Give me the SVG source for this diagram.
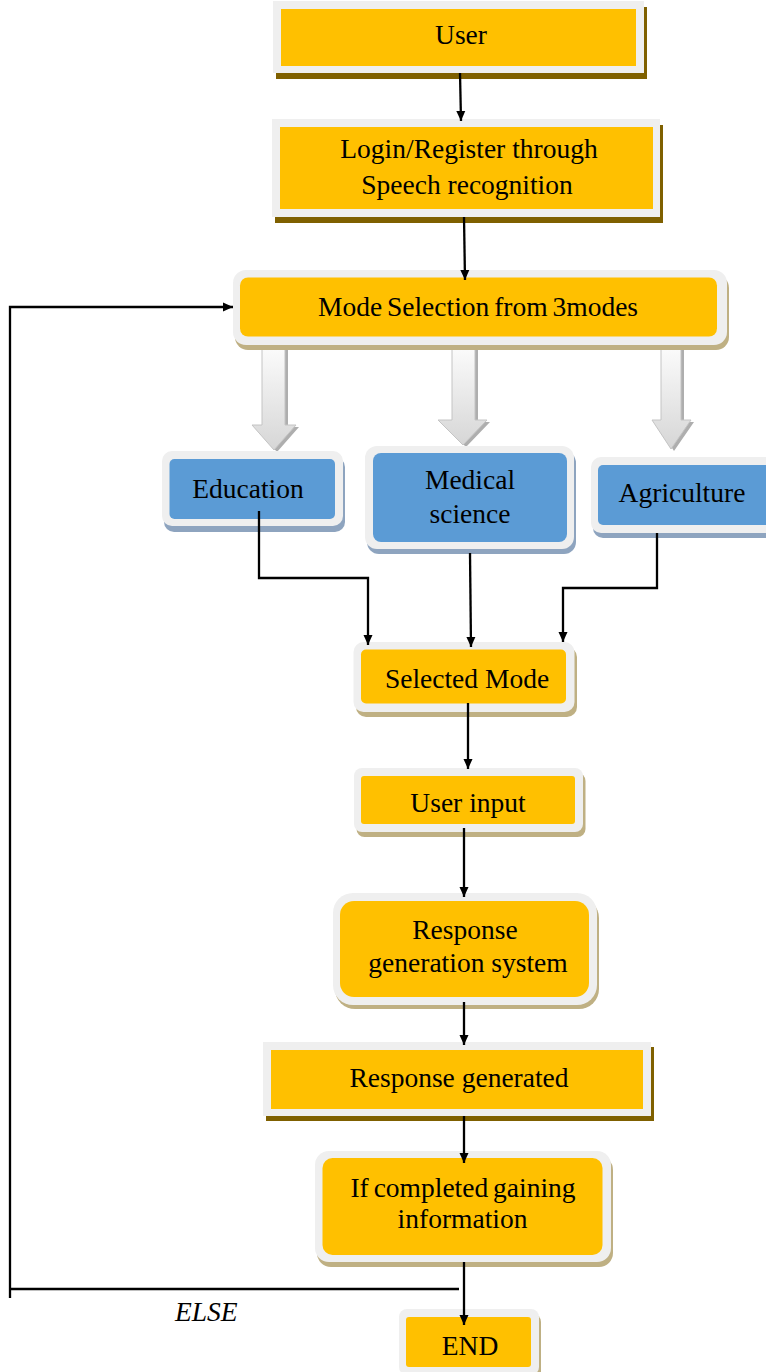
<svg xmlns="http://www.w3.org/2000/svg" width="766" height="1372" viewBox="0 0 766 1372">
<defs>
<style>
.frame{fill:#EFEFEF;}
.gold{fill:#FFC000;}
.blue{fill:#5B9BD5;}
.shD{fill:#7F6000;}
.shT{fill:#BFB083;}
.shB{fill:#8EA4BF;}
.t{font-family:"Liberation Serif","Times New Roman",serif;font-size:27.5px;fill:#000;text-anchor:middle;}
.else{font-family:"Liberation Serif","Times New Roman",serif;font-size:27.5px;font-style:italic;fill:#000;}
.conn{fill:none;stroke:#000;stroke-width:2.3;}
.bk{fill:#AEAEAE;}
.bf{fill:url(#garr);stroke:#C4C4C4;stroke-width:1;}
</style>
<linearGradient id="garr" x1="0" y1="0" x2="0" y2="1">
<stop offset="0" stop-color="#FBFBFB"/>
<stop offset="1" stop-color="#D6D6D6"/>
</linearGradient>
<marker id="ah" viewBox="0 0 10 10" refX="10" refY="5" markerWidth="10" markerHeight="10" markerUnits="userSpaceOnUse" orient="auto">
<path d="M0,0.5 L10,5 L0,9.5 z" fill="#000"/>
</marker>
</defs>

<g id="block-arrows">
<g id="barrow-left">
<polygon class="bk" points="265,350 288,350 288,427 299,427 277,452 255,427 265,427"/>
<polygon class="bf" points="262,348 285,348 285,425 296,425 274,450 252,425 262,425"/>
</g>
<g id="barrow-mid">
<polygon class="bk" points="455,350 478,350 478,422 490,422 466,447 441,422 455,422"/>
<polygon class="bf" points="452,348 475,348 475,420 487,420 463,445 438,420 452,420"/>
</g>
<g id="barrow-right">
<polygon class="bk" points="664,350 684,350 684,422 694,422 674,451 655,422 664,422"/>
<polygon class="bf" points="661,348 681,348 681,420 691,420 671,449 652,420 661,420"/>
</g>
</g>

<g id="node-user">
<rect class="shD" x="276" y="7" width="371" height="72"/>
<rect class="frame" x="273" y="1" width="371" height="72"/>
<rect class="gold" x="281" y="9" width="355" height="57"/>
<text class="t" x="461" y="44">User</text>
</g>

<g id="node-login">
<rect class="shD" x="275" y="125" width="388" height="98"/>
<rect class="frame" x="272" y="119" width="388" height="98"/>
<rect class="gold" x="280" y="127" width="373" height="82"/>
<text class="t" x="469" y="158">Login/Register through</text>
<text class="t" x="467" y="194">Speech recognition</text>
</g>

<g id="node-mode-selection">
<rect class="shT" x="235" y="275" width="494" height="75" rx="13"/>
<rect class="frame" x="233" y="270" width="494" height="75" rx="13"/>
<rect class="gold" x="240" y="277.5" width="477" height="59" rx="8"/>
<text class="t" x="478" y="316" style="word-spacing:-2px">Mode Selection from 3modes</text>
</g>

<g id="node-education">
<rect class="shB" x="164" y="457" width="181" height="75" rx="10"/>
<rect class="frame" x="162" y="451" width="181" height="75" rx="10"/>
<rect class="blue" x="169.5" y="459" width="165.5" height="60" rx="5"/>
<text class="t" x="248" y="498">Education</text>
</g>

<g id="node-medical">
<rect class="shB" x="367" y="451" width="209" height="103" rx="12"/>
<rect class="frame" x="365" y="446" width="209" height="103" rx="12"/>
<rect class="blue" x="373" y="453" width="194" height="89" rx="8"/>
<text class="t" x="470" y="489">Medical</text>
<text class="t" x="470" y="523">science</text>
</g>

<g id="node-agriculture">
<rect class="shB" x="593" y="462" width="190" height="76" rx="10"/>
<rect class="frame" x="591" y="457" width="190" height="76" rx="10"/>
<rect class="blue" x="598" y="465" width="176" height="60" rx="5"/>
<text class="t" x="682" y="502">Agriculture</text>
</g>

<g id="node-selected-mode">
<rect class="shT" x="356" y="647" width="221" height="70" rx="10"/>
<rect class="frame" x="353.5" y="642" width="221" height="70" rx="10"/>
<rect class="gold" x="361" y="649.5" width="205" height="54" rx="5"/>
<text class="t" x="467" y="688">Selected Mode</text>
</g>

<g id="node-user-input">
<rect class="shT" x="356.5" y="773" width="229" height="64" rx="8"/>
<rect class="frame" x="354" y="768" width="229" height="64" rx="8"/>
<rect class="gold" x="361" y="776" width="214" height="48" rx="3"/>
<text class="t" x="468" y="812">User input</text>
</g>

<g id="node-response-system">
<rect class="shT" x="335" y="898" width="264" height="111" rx="20"/>
<rect class="frame" x="333" y="893" width="264" height="112" rx="20"/>
<rect class="gold" x="340" y="901" width="249" height="96" rx="14"/>
<text class="t" x="465" y="939">Response</text>
<text class="t" x="468" y="972">generation system</text>
</g>

<g id="node-response-generated">
<rect class="shD" x="266" y="1047" width="388" height="74"/>
<rect class="frame" x="263" y="1042" width="388" height="74"/>
<rect class="gold" x="271" y="1050" width="372" height="59"/>
<text class="t" x="459" y="1087">Response generated</text>
</g>

<g id="node-if-completed">
<rect class="shT" x="317" y="1156" width="296" height="111" rx="14"/>
<rect class="frame" x="315" y="1151" width="296" height="111" rx="14"/>
<rect class="gold" x="322.5" y="1158" width="280" height="97" rx="10"/>
<text class="t" x="463" y="1197" style="word-spacing:-2px">If completed gaining</text>
<text class="t" x="462.5" y="1228">information</text>
</g>

<g id="node-end">
<rect class="shT" x="401" y="1314" width="140" height="66" rx="8"/>
<rect class="frame" x="399" y="1309" width="140" height="66" rx="8"/>
<rect class="gold" x="406" y="1317" width="125" height="50" rx="3"/>
<text class="t" x="470" y="1355">END</text>
</g>

<g id="connectors">
<path class="conn" d="M460,73 L461,121" marker-end="url(#ah)"/>
<path class="conn" d="M464,217 L465,280" marker-end="url(#ah)"/>
<path class="conn" d="M459,1289 H10"/>
<path class="conn" d="M10,1298 V307 H233" marker-end="url(#ah)"/>
<path class="conn" d="M259,511 V578 H368 V645" marker-end="url(#ah)"/>
<path class="conn" d="M470,553 L471,647" marker-end="url(#ah)"/>
<path class="conn" d="M657,533 V588 H563 V642" marker-end="url(#ah)"/>
<path class="conn" d="M468,703 V769" marker-end="url(#ah)"/>
<path class="conn" d="M464,828 V897" marker-end="url(#ah)"/>
<path class="conn" d="M464,1002 V1045" marker-end="url(#ah)"/>
<path class="conn" d="M464,1116 V1163" marker-end="url(#ah)"/>
<path class="conn" d="M464,1262 V1325" marker-end="url(#ah)"/>
</g>

<text class="else" x="175" y="1321">ELSE</text>
</svg>
